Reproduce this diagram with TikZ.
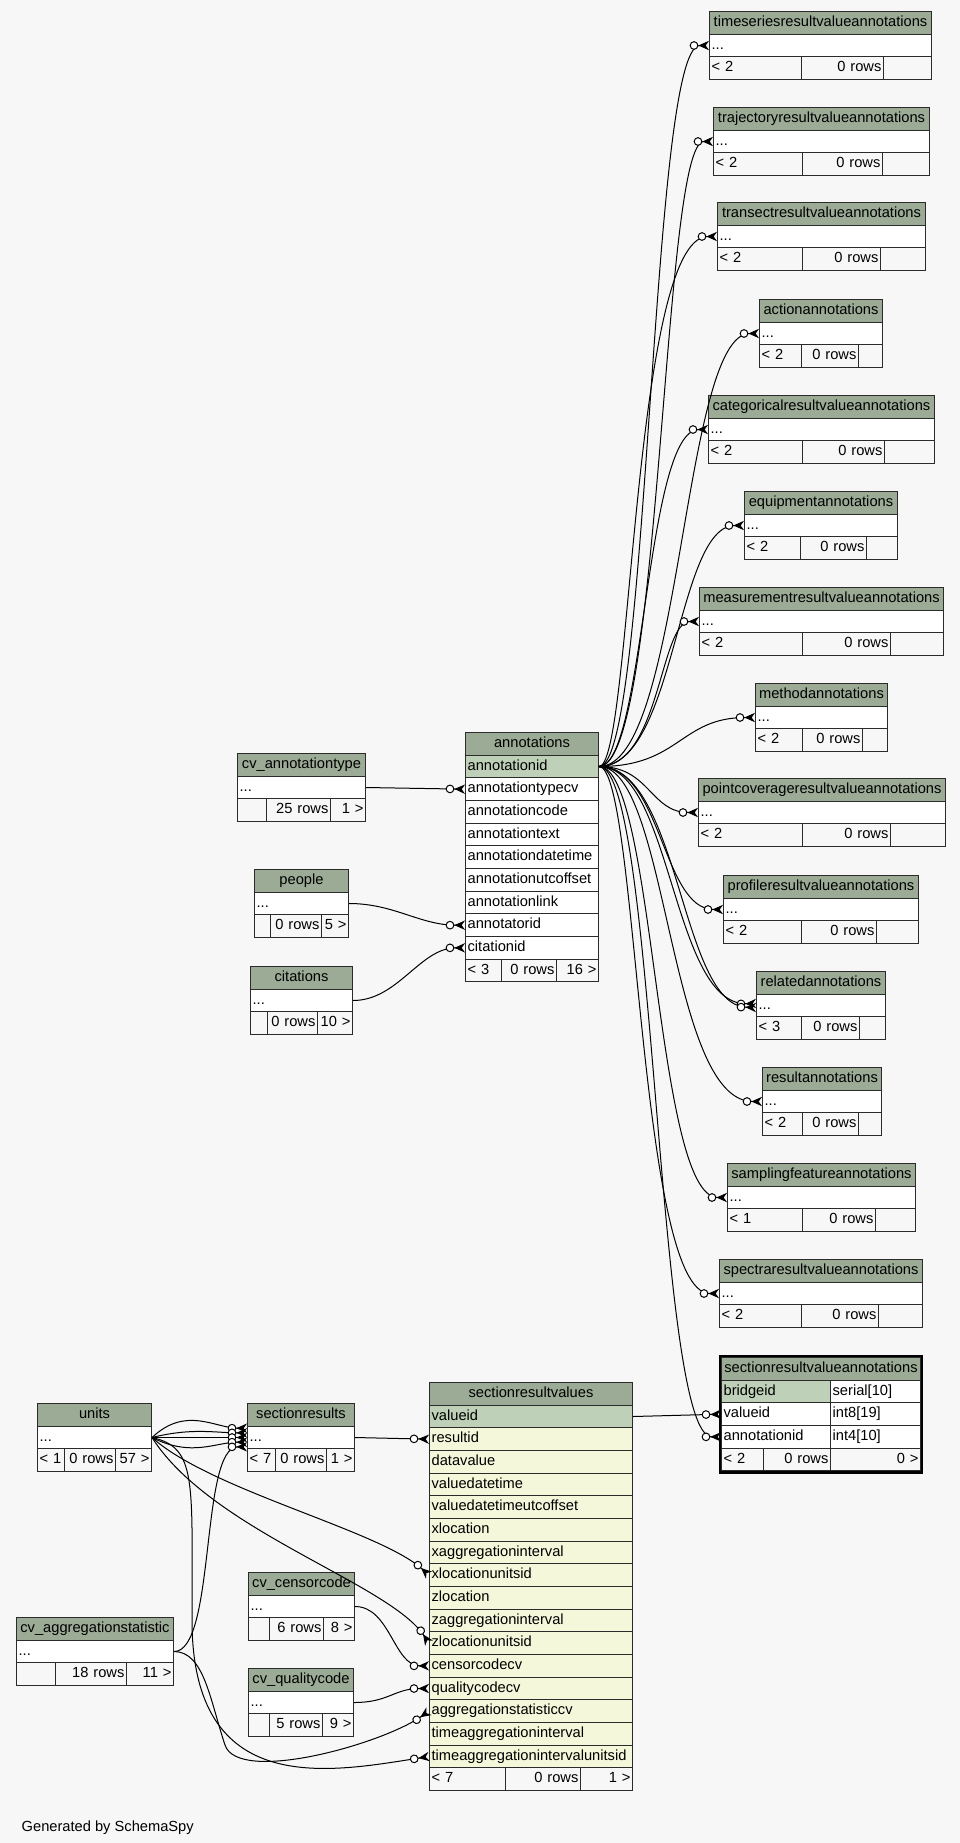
\documentclass[tikz,border=0pt]{standalone}
\usepackage{fontspec}
\setmainfont{Liberation Sans}
\usetikzlibrary{arrows.meta,calc}

\definecolor{pagebg}{HTML}{F7F7F7}
\definecolor{headbg}{HTML}{9BAB96}
\definecolor{keybg}{HTML}{BED1B8}
\definecolor{focusbg}{HTML}{F4F7DA}
\definecolor{edgecol}{HTML}{2B2B2B}

\def\rowh{22.667}

\tikzset{
  cell/.style={draw=edgecol, line width=0.75pt, anchor=north west, minimum height=17pt,
    inner xsep=1.6pt, inner ysep=0pt, text height=8pt, text depth=2.6pt,
    font=\fontsize{11pt}{13pt}\selectfont,
    execute at begin node={\hyphenpenalty=10000}},
  fk/.style={line width=0.75pt,
    -{Circle[length=6.5pt,width=6.5pt,fill=white] Stealth[reversed,length=8pt,width=7pt,inset=2.5pt]}},
}

% one cell of a table: name, left, top, right, fill, align, text
\newcommand{\cellnode}[7]{%
  \pgfmathsetlengthmacro\cellw{(#4-#2)*0.75pt-3.2pt}%
  \node[cell, fill=#5, align=#6, text width=\cellw] (#1) at (#2,#3) {\mbox{#7}};%
}
% header and the "..." row
\newcommand{\smalltab}[5]{%
  \pgfmathsetmacro\rowy{#3+\rowh}%
  \cellnode{#1}{#2}{#3}{#4}{headbg}{center}{#5}%
  \cellnode{#1-r1}{#2}{\rowy}{#4}{white}{left}{...}%
}
% footer of a small table: name, left, top, split1, split2, right, texts
\newcommand{\tabfoot}[9]{%
  \pgfmathsetmacro\rowy{#3+2*\rowh}%
  \cellnode{#1-f1}{#2}{\rowy}{#4}{pagebg}{left}{#7}%
  \cellnode{#1-f2}{#4}{\rowy}{#5}{pagebg}{right}{#8}%
  \cellnode{#1-f3}{#5}{\rowy}{#6}{pagebg}{right}{#9}%
}

\begin{document}
\begin{tikzpicture}[x=0.75pt, y=-0.75pt]
    \fill[pagebg] (0,0) rectangle (960,1843);
    \useasboundingbox (0,0) rectangle (960,1843);

    % annotation tables on the right
    \smalltab{ts}{709}{11}{931}{timeseriesresultvalueannotations}
    \tabfoot{ts}{709}{11}{801}{883}{931}{< 2}{0 rows}{}
    \smalltab{traj}{713}{107}{929}{trajectoryresultvalueannotations}
    \tabfoot{traj}{713}{107}{802}{882}{929}{< 2}{0 rows}{}
    \smalltab{trans}{717}{202}{925}{transectresultvalueannotations}
    \tabfoot{trans}{717}{202}{802}{880}{925}{< 2}{0 rows}{}
    \smalltab{act}{759}{299}{882}{actionannotations}
    \tabfoot{act}{759}{299}{801}{858}{882}{< 2}{0 rows}{}
    \smalltab{cat}{708}{395}{934}{categoricalresultvalueannotations}
    \tabfoot{cat}{708}{395}{802}{884}{934}{< 2}{0 rows}{}
    \smalltab{equ}{744}{491}{897}{equipmentannotations}
    \tabfoot{equ}{744}{491}{800}{866}{897}{< 2}{0 rows}{}
    \smalltab{meas}{699}{587}{943}{measurementresultvalueannotations}
    \tabfoot{meas}{699}{587}{802}{890}{943}{< 2}{0 rows}{}
    \smalltab{meth}{755}{683}{887}{methodannotations}
    \tabfoot{meth}{755}{683}{802}{862}{887}{< 2}{0 rows}{}
    \smalltab{pcov}{698}{778}{945}{pointcoverageresultvalueannotations}
    \tabfoot{pcov}{698}{778}{802}{890}{945}{< 2}{0 rows}{}
    \smalltab{prof}{723}{875}{918}{profileresultvalueannotations}
    \tabfoot{prof}{723}{875}{801}{876}{918}{< 2}{0 rows}{}
    \smalltab{rel}{756}{971}{885}{relatedannotations}
    \tabfoot{rel}{756}{971}{801}{859}{885}{< 3}{0 rows}{}
    \smalltab{res}{762}{1067}{881}{resultannotations}
    \tabfoot{res}{762}{1067}{802}{858}{881}{< 2}{0 rows}{}
    \smalltab{samp}{727}{1163}{915}{samplingfeatureannotations}
    \tabfoot{samp}{727}{1163}{802}{875}{915}{< 1}{0 rows}{}
    \smalltab{spec}{719}{1259}{922}{spectraresultvalueannotations}
    \tabfoot{spec}{719}{1259}{801}{878}{922}{< 2}{0 rows}{}

    % annotations
    \cellnode{ann}{465}{732}{598}{headbg}{center}{annotations}
    \cellnode{ann-r1}{465}{754.667}{598}{keybg}{left}{annotationid}
    \foreach \fld [count=\i from 2] in {annotationtypecv, annotationcode, annotationtext,
        annotationdatetime, annotationutcoffset, annotationlink, annotatorid, citationid} {
      \pgfmathsetmacro\rowy{732+\i*\rowh}
      \cellnode{ann-r\i}{465}{\rowy}{598}{white}{left}{\fld}
    }
    \cellnode{ann-f1}{465}{958.67}{501}{pagebg}{left}{< 3}
    \cellnode{ann-f2}{501}{958.67}{556}{pagebg}{right}{0 rows}
    \cellnode{ann-f3}{556}{958.67}{598}{pagebg}{right}{16 >}

    \smalltab{cvat}{237}{753}{365}{cv\_annotationtype}
    \tabfoot{cvat}{237}{753}{266}{330}{365}{}{25 rows}{1 >}
    \smalltab{ppl}{254}{869}{348}{people}
    \tabfoot{ppl}{254}{869}{270}{321}{348}{}{0 rows}{5 >}
    \smalltab{cit}{250}{966}{352}{citations}
    \tabfoot{cit}{250}{966}{267}{317}{352}{}{0 rows}{10 >}

    % sectionresultvalues
    \cellnode{srv}{429}{1382}{632}{headbg}{center}{sectionresultvalues}
    \cellnode{srv-r1}{429}{1404.667}{632}{keybg}{left}{valueid}
    \foreach \fld [count=\i from 2] in {resultid, datavalue, valuedatetime, valuedatetimeutcoffset,
        xlocation, xaggregationinterval, xlocationunitsid, zlocation, zaggregationinterval,
        zlocationunitsid, censorcodecv, qualitycodecv, aggregationstatisticcv,
        timeaggregationinterval, timeaggregationintervalunitsid} {
      \pgfmathsetmacro\rowy{1382+\i*\rowh}
      \cellnode{srv-r\i}{429}{\rowy}{632}{focusbg}{left}{\fld}
    }
    \cellnode{srv-f1}{429}{1767.33}{505}{pagebg}{left}{< 7}
    \cellnode{srv-f2}{505}{1767.33}{580}{pagebg}{right}{0 rows}
    \cellnode{srv-f3}{580}{1767.33}{632}{pagebg}{right}{1 >}

    % sectionresultvalueannotations
    \cellnode{srva}{721}{1357}{920}{headbg}{center}{sectionresultvalueannotations}
    \cellnode{srva-r1}{721}{1379.67}{830}{keybg}{left}{bridgeid}
    \cellnode{srva-t1}{830}{1379.67}{920}{white}{left}{serial[10]}
    \cellnode{srva-r2}{721}{1402.33}{830}{white}{left}{valueid}
    \cellnode{srva-t2}{830}{1402.33}{920}{white}{left}{int8[19]}
    \cellnode{srva-r3}{721}{1425}{830}{white}{left}{annotationid}
    \cellnode{srva-t3}{830}{1425}{920}{white}{left}{int4[10]}
    \cellnode{srva-f1}{721}{1447.67}{763}{pagebg}{left}{< 2}
    \cellnode{srva-f2}{763}{1447.67}{830}{pagebg}{right}{0 rows}
    \cellnode{srva-f3}{830}{1447.67}{920}{pagebg}{right}{0 >}
    \draw[line width=2.2pt] ($(srva.north west)+(-1,-1)$) rectangle ($(srva-f3.south east)+(1,1)$);

    % lookup tables at the bottom left
    \smalltab{unit}{37}{1403}{151}{units}
    \tabfoot{unit}{37}{1403}{64}{115}{151}{< 1}{0 rows}{57 >}
    \smalltab{sres}{247}{1403}{354}{sectionresults}
    \tabfoot{sres}{247}{1403}{275}{326}{354}{< 7}{0 rows}{1 >}
    \smalltab{cvcc}{248}{1572}{354}{cv\_censorcode}
    \tabfoot{cvcc}{248}{1572}{269}{323}{354}{}{6 rows}{8 >}
    \smalltab{cvagg}{16}{1617}{173}{cv\_aggregationstatistic}
    \tabfoot{cvagg}{16}{1617}{55}{126}{173}{}{18 rows}{11 >}
    \smalltab{cvqc}{248}{1668}{353}{cv\_qualitycode}
    \tabfoot{cvqc}{248}{1668}{269}{322}{353}{}{5 rows}{9 >}

    % Relationships fanning out of annotationid
    \foreach \tgt/\xv in {ts/650, traj/662, trans/632, act/682, cat/645, equ/676, meas/660,
        meth/680, pcov/650, prof/662, res/668, samp/655, spec/638} {
      \draw[fk] (ann-r1.east) .. controls (\xv,0 |- ann-r1.east) and (\xv,0 |- \tgt-r1.west) .. (\tgt-r1.west);
    }
    \draw[fk] (ann-r1.east) .. controls (672,0 |- ann-r1.east) and (672,0 |- rel-r1.west) .. ([yshift=1.5pt]rel-r1.west);
    \draw[fk] (ann-r1.east) .. controls (680,0 |- ann-r1.east) and (680,0 |- rel-r1.west) .. ([yshift=-1.5pt]rel-r1.west);
    \draw[fk] (ann-r1.east) .. controls (656,0 |- ann-r1.east) and (656,0 |- srva-r3.west) .. (srva-r3.west);

    % Relationships into annotations
    \draw[fk] (cvat-r1.east) -- (ann-r2.west);
    \draw[fk] (ppl-r1.east) .. controls +(45,0) and +(-45,0) .. (ann-r8.west);
    \draw[fk] (cit-r1.east) .. controls +(45,0) and +(-45,0) .. (ann-r9.west);

    % Relationships into sectionresultvalues
    \draw[fk] (srv-r1.east) -- (srva-r2.west);
    \draw[fk] (sres-r1.east) -- (srv-r2.west);
    \draw[fk] (cvcc-r1.east) .. controls +(35,0) and +(-35,0) .. (srv-r12.west);
    \draw[fk] (cvqc-r1.east) .. controls +(35,0) and +(-35,0) .. (srv-r13.west);
    \draw[fk] (unit-r1.east) .. controls +(59,53) and +(-50,-45) .. (srv-r8.west);
    \draw[fk] (unit-r1.east) .. controls +(59,93) and +(-40,-60) .. (srv-r11.west);
    \draw[fk] (unit-r1.east) .. controls +(45,10) and (192,1480) .. (192,1620)
        .. controls (192,1800) and (330,1772) .. (srv-r16.west);
    \draw[fk] (cvagg-r1.east) .. controls +(30,0) and (210,1700) .. (225,1745)
        .. controls (238,1784) and (380,1745) .. (srv-r14.west);

    % Relationships into sectionresults
    \draw[fk] (unit-r1.east) .. controls +(34,-32) and +(-32,0) .. ([yshift=7pt]sres-r1.west);
    \draw[fk] (unit-r1.east) .. controls +(40,-10) and +(-32,0) .. ([yshift=3.5pt]sres-r1.west);
    \draw[fk] (unit-r1.east) .. controls +(40,0) and +(-32,0) .. (sres-r1.west);
    \draw[fk] (unit-r1.east) .. controls +(40,20) and +(-32,0) .. ([yshift=-3.5pt]sres-r1.west);
    \draw[fk] (cvagg-r1.east) .. controls +(42,0) and +(-47,0) .. ([yshift=-7pt]sres-r1.west);

    \node[anchor=base west, font=\fontsize{11pt}{13pt}\selectfont] (credit) at (17,1831) {Generated by SchemaSpy};
\end{tikzpicture}
\end{document}
